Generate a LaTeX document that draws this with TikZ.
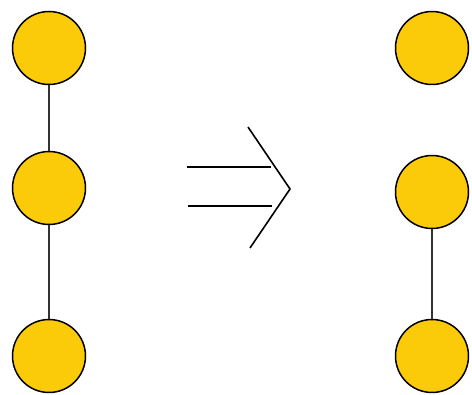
\documentclass[tikz,border=0pt]{standalone}
\usepackage{xcolor}
\usepackage{tikz}
\usetikzlibrary{positioning}
\definecolor{vertexgold}{HTML}{FBCB0A}

\begin{document}
\begin{tikzpicture}[x=1pt, y=-1pt,
    vertex/.style={circle, fill=vertexgold, draw=black, line width=1.5pt, minimum size=73pt, inner sep=0pt},
    edge/.style={draw=black!80, line width=1.2pt}]
    \useasboundingbox (0,0) rectangle (472,395);
    % left graph
    \node[vertex] (l1) at (49,48) {};
    \node[vertex] (l2) at (49,188) {};
    \node[vertex] (l3) at (49,356) {};
    \draw[edge] (l1) -- (l2);
    \draw[edge] (l2) -- (l3);
    % right graph
    \node[vertex] (r1) at (432,48) {};
    \node[vertex] (r2) at (432,192) {};
    \node[vertex] (r3) at (432,356) {};
    \draw[edge] (r2) -- (r3);
    % implies sign
    \coordinate (tip) at (290,189);
    \coordinate (top) at (248,127);
    \coordinate (bot) at (250,248);
    \coordinate (a1) at (187,167);
    \coordinate (b1) at (271,167);
    \coordinate (a2) at (188,206);
    \coordinate (b2) at (272,206);
    \draw[line width=1.6pt] (top) -- (tip) -- (bot);
    \draw[line width=1.6pt] (a1) -- (b1);
    \draw[line width=1.6pt] (a2) -- (b2);
\end{tikzpicture}
\end{document}
